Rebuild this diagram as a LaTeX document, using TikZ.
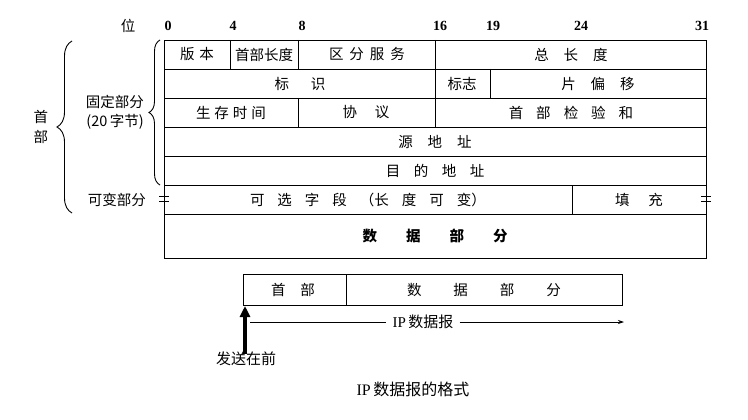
\documentclass[tikz,border=0pt]{standalone}
\usepackage{fontspec}
\setmainfont{Liberation Serif}
\newfontfamily\cjk{Noto Sans CJK SC}
\usetikzlibrary{decorations.pathreplacing,arrows.meta}
\newcommand{\g}[1]{\hspace{#1pt}}
\begin{document}
\begin{tikzpicture}[x=1pt,y=-1pt,
  lbl/.style={font=\cjk\fontsize{14.5}{16}\selectfont, inner sep=0pt},
  boldlbl/.style={font=\cjk\bfseries\fontsize{14.5}{16}\selectfont, inner sep=0pt},
  bit/.style={font=\bfseries\fontsize{14}{16}\selectfont, inner sep=0pt},
  grid/.style={line width=0.9pt},
  bracedeco/.style={decorate, decoration={brace, amplitude=#1}, line width=0.9pt},
  varmark/.style={line width=0.9pt}]
\useasboundingbox (0,0) rectangle (748,420);

% bit positions
\node[lbl] (wei) at (128,26) {位};
\node[bit] (b0) at (168,26) {0};
\node[bit] (b4) at (233,26) {4};
\node[bit] (b8) at (302,26) {8};
\node[bit] (b16) at (440,26) {16};
\node[bit] (b19) at (493,26) {19};
\node[bit] (b24) at (581,26) {24};
\node[bit] (b31) at (702,26) {31};

% table
\draw[grid] (164,40) rectangle (706,258);
\foreach \y in {69,98,127,156,185,214} \draw[grid] (164,\y) -- (706,\y);
\draw[grid] (230,40) -- (230,69);
\draw[grid] (298,40) -- (298,69);
\draw[grid] (298,98) -- (298,127);
\draw[grid] (435,40) -- (435,127);
\draw[grid] (490,69) -- (490,98);
\draw[grid] (572,185) -- (572,214);

% variable-length marks
\foreach \x in {164,706} {
  \draw[varmark] (\x-5,196.5) -- (\x+5,196.5);
  \draw[varmark] (\x-5,201.5) -- (\x+5,201.5);
}

% row 1
\node[lbl] (ver) at (197,54.5) {版\g{5}本};
\node[lbl] (ihl) at (264,54.5) {首部长度};
\node[lbl] (tos) at (367,54.5) {区\g{6}分\g{6}服\g{6}务};
\node[lbl] (tlen) at (571,54.5) {总\g{15}长\g{15}度};
% row 2
\node[lbl] (ident) at (300,83.5) {标\g{22}识};
\node[lbl] (flags) at (462,83.5) {标志};
\node[lbl] (frag) at (598,83.5) {片\g{15}偏\g{15}移};
% row 3
\node[lbl] (ttl) at (231,112.5) {生\g{4}存\g{4}时\g{4}间};
\node[lbl] (proto) at (366,112.5) {协\g{18}议};
\node[lbl] (csum) at (571,112.5) {首\g{13}部\g{13}检\g{13}验\g{13}和};
% rows 4-5
\node[lbl] (src) at (435,141.5) {源\g{15}地\g{15}址};
\node[lbl] (dst) at (435,170.5) {目\g{13.5}的\g{13.5}地\g{13.5}址};
% row 6
\node[lbl] (opt) at (368,199.5) {可\g{13}选\g{13}字\g{13}段\g{13}（长\g{13}度\g{13}可\g{13}变）};
\node[lbl] (pad) at (639,199.5) {填\g{19}充};
% data
\node[boldlbl] (data) at (435,236) {数\g{29}据\g{29}部\g{29}分};

% braces
\draw[bracedeco=11pt] (160,185) -- (160,40);
\node[lbl, anchor=east] (fixed) at (144,102) {固定部分};
\node[lbl, anchor=east] (twenty) at (144,122) {(20\,字节)};
\draw[bracedeco=15pt] (72,213) -- (72,41);
\node[lbl] (shou) at (41,117) {首};
\node[lbl] (bu) at (41,137) {部};
\node[lbl, anchor=east] (var) at (146,199.5) {可变部分};

% bottom datagram
\draw[grid] (243,274) rectangle (622,305);
\draw[grid] (346,274) -- (346,305);
\node[lbl] (hdr) at (293,289.5) {首\g{15}部};
\node[lbl] (payload) at (484,289.5) {数\g{32}据\g{32}部\g{32}分};

\node[lbl, font=\fontsize{15}{17}\selectfont] (ipd) at (423,322) {IP\,{\cjk 数据报}};
\coordinate (ipstart) at (250,322);
\coordinate (ipend) at (624,322);
\draw[line width=0.8pt] (ipstart) -- ([xshift=-6pt]ipd.west);
\draw[line width=0.8pt, -{Stealth[length=6pt,width=4pt]}] ([xshift=6pt]ipd.east) -- (ipend);

\node[lbl, font=\cjk\fontsize{15}{17}\selectfont] (send) at (246,359) {发送在前};
\coordinate (arrtip) at (245,306);
\draw[line width=3.2pt, -{Triangle[length=11pt,width=10pt]}] ([yshift=-2pt]send.north -| arrtip) -- (arrtip);

\node[lbl, font=\fontsize{16}{18}\selectfont] (caption) at (413,389) {IP\,{\cjk 数据报的格式}};
\end{tikzpicture}
\end{document}
